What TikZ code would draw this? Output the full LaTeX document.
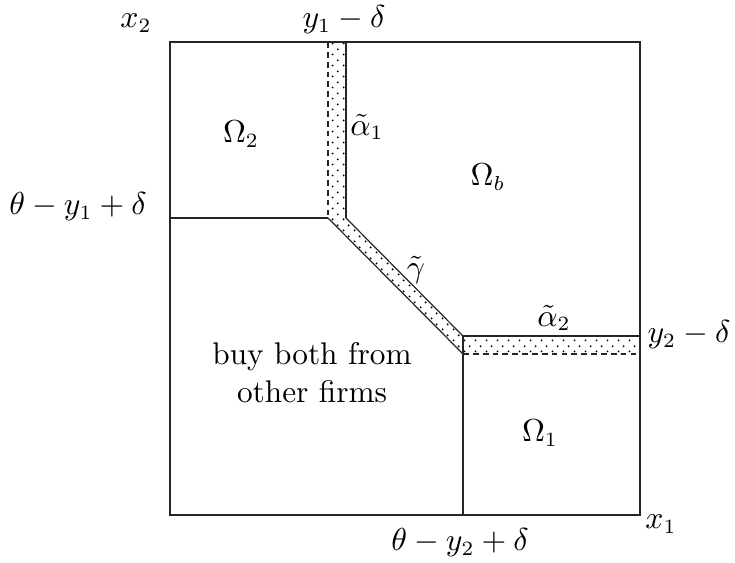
\documentclass[tikz,border=0pt]{standalone}
\usetikzlibrary{patterns}
\pgfdeclarepatternformonly{sparsedots}{\pgfqpoint{0pt}{0pt}}{\pgfqpoint{3.8pt}{3.8pt}}{\pgfqpoint{3.8pt}{3.8pt}}{%
  \pgfpathcircle{\pgfqpoint{0.95pt}{0.95pt}}{0.38pt}%
  \pgfpathcircle{\pgfqpoint{2.85pt}{2.85pt}}{0.38pt}%
  \pgfusepath{fill}}
\tikzset{
  edge/.style={line width=0.42pt, black!85},
  dashedge/.style={line width=0.42pt, black!85, dash pattern=on 2pt off 1.4pt},
  band/.style={pattern=sparsedots, draw=none},
  lbl/.style={inner sep=0pt, font=\fontsize{10.5}{12.6}\selectfont},
  txt/.style={inner sep=0pt, font=\fontsize{10.8}{13}\selectfont}
}
\begin{document}
\begin{tikzpicture}[x=0.345pt, y=-0.345pt]
\useasboundingbox (0,0) rectangle (735,563);
% dotted bands
\fill[band] (328,42) rectangle (346,218);
\fill[band] (328,218) -- (346,218) -- (463,336) -- (463,354) -- cycle;
\fill[band] (463,336) rectangle (640,354);
% frame
\draw[edge] (170,42) rectangle (640,515);
% corner points
\coordinate (s1t) at (328,42);
\coordinate (s1b) at (328,218);
\coordinate (s2t) at (346,42);
\coordinate (s2b) at (346,218);
\coordinate (l0) at (170,218);
\coordinate (d1) at (463,354);
\coordinate (d2) at (463,336);
\coordinate (r1) at (640,336);
\coordinate (r2) at (640,354);
\coordinate (bt) at (463,515);
% lines
\draw[dashedge] (s1t) -- (s1b);
\draw[edge] (s2t) -- (s2b);
\draw[edge] (l0) -- (s1b);
\draw[edge] (s1b) -- (d1);
\draw[edge] (s2b) -- (d2);
\draw[edge] (d2) -- (r1);
\draw[dashedge] (d1) -- (r2);
\draw[edge] (d2) -- (bt);
% labels
\node[lbl] (x2) at (136,23) {$x_2$};
\node[lbl] (y1d) at (344,20) {$y_1-\delta$};
\node[lbl] (om2) at (241,134) {$\Omega_2$};
\node[lbl] (a1) at (367,127) {$\tilde\alpha_1$};
\node[lbl] (omb) at (488,177) {$\Omega_b$};
\node[lbl] (ty1) at (78,207) {$\theta-y_1+\delta$};
\node[lbl] (gam) at (416,270) {$\tilde\gamma$};
\node[lbl] (a2) at (554,318) {$\tilde\alpha_2$};
\node[lbl] (y2d) at (689,335) {$y_2-\delta$};
\node[txt] (buy) at (312,357) {buy both from};
\node[txt] (oth) at (312,392) {other firms};
\node[lbl] (om1) at (540,433) {$\Omega_1$};
\node[lbl] (x1) at (661,524) {$x_1$};
\node[lbl] (ty2) at (460,543) {$\theta-y_2+\delta$};
\end{tikzpicture}
\end{document}
